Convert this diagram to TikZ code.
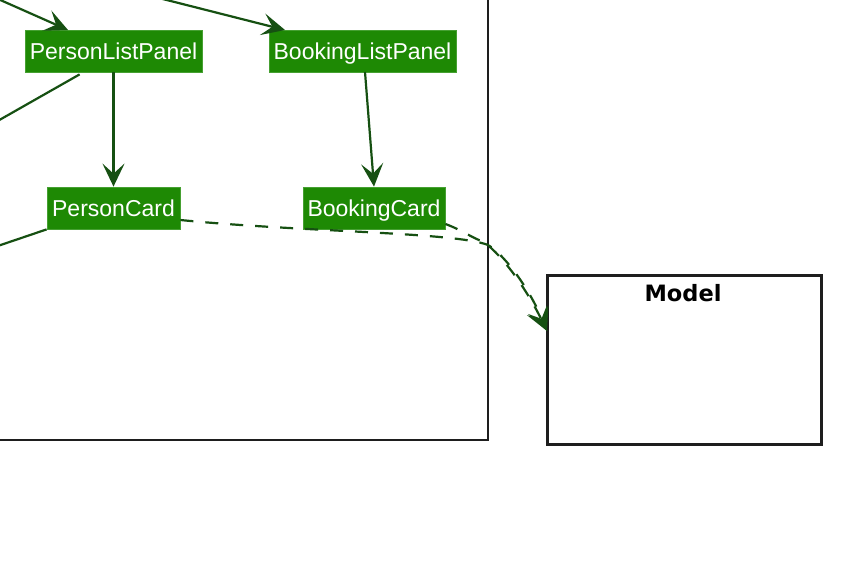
\documentclass[tikz,border=0pt]{standalone}
\usepackage{fontspec}
\setmainfont{Liberation Sans}
\newfontfamily\modelfont{DejaVu Sans}
\usetikzlibrary{arrows.meta}
\definecolor{nodegreen}{RGB}{30,137,4}
\definecolor{nodeborder}{RGB}{70,160,50}
\definecolor{edgegreen}{RGB}{22,80,18}
\definecolor{boxline}{RGB}{30,30,30}
\tikzset{
  comp/.style={draw=nodeborder, line width=0.8pt, fill=nodegreen, text=white, inner sep=0pt, font=\fontsize{23}{25}\selectfont},
  tipstyle/.style={-{Stealth[length=23pt, width=22pt, inset=10pt]}},
  rel/.style={draw=edgegreen, line width=2.2pt, tipstyle},
  plain/.style={draw=edgegreen, line width=2.2pt},
  dep/.style={draw=edgegreen, line width=2.2pt, dash pattern=on 13pt off 12pt, tipstyle},
  frame/.style={draw=boxline, line width=2.8pt}
}
\begin{document}
\begin{tikzpicture}[x=1pt, y=-1pt]
\clip (0,0) rectangle (842,586);
\fill[white] (0,0) rectangle (842,586);
% UI frame (partially visible)
\draw[frame] (-20,-20) rectangle (488,440);
% Model box
\node[frame, minimum width=274pt, minimum height=169pt, anchor=north west, inner sep=0pt] (model) at (546,274) {};
\node[font=\modelfont\bfseries\fontsize{22.5}{24}\selectfont, anchor=north] (modeltitle) at (683,281) {Model};
% components
\node[comp, minimum width=177pt, minimum height=42pt, text depth=0pt, text height=17pt] (plp) at (113.5,51) {PersonListPanel};
\node[comp, minimum width=187pt, minimum height=42pt, text depth=0pt, text height=17pt] (blp) at (362.5,51) {BookingListPanel};
\node[comp, minimum width=133pt, minimum height=42pt, text depth=0pt, text height=17pt] (pc) at (113.5,208) {PersonCard};
\node[comp, minimum width=142pt, minimum height=42pt, text depth=0pt, text height=17pt] (bc) at (374,208) {BookingCard};
% free ends
\coordinate (c1) at (-20,-9);
\coordinate (c2) at (147,-5);
\coordinate (c3) at (-20,131);
\coordinate (c4) at (-20,252);
\coordinate (merge) at (488,245);
\coordinate (tip) at (547,331);
% edges
\draw[rel] (c1) -- (68,30);
\draw[rel] (c2) -- (285,30);
\draw[plain] (plp.south west) ++(55,2) -- (c3);
\draw[plain] (pc.south west) -- (c4);
\draw[rel] (plp.south) -- (pc.north);
\draw[rel] (365,72) -- (bc.north);
\draw[dep] (pc.east) ++(0,12) .. controls (300,232) and (455,232) .. (merge) .. controls (505,255) and (530,290) .. (tip);
\draw[dep] (bc.east) ++(0,16) .. controls (462,230) and (472,238) .. (484,242) .. controls (505,258) and (528,292) .. (tip);
\end{tikzpicture}
\end{document}
